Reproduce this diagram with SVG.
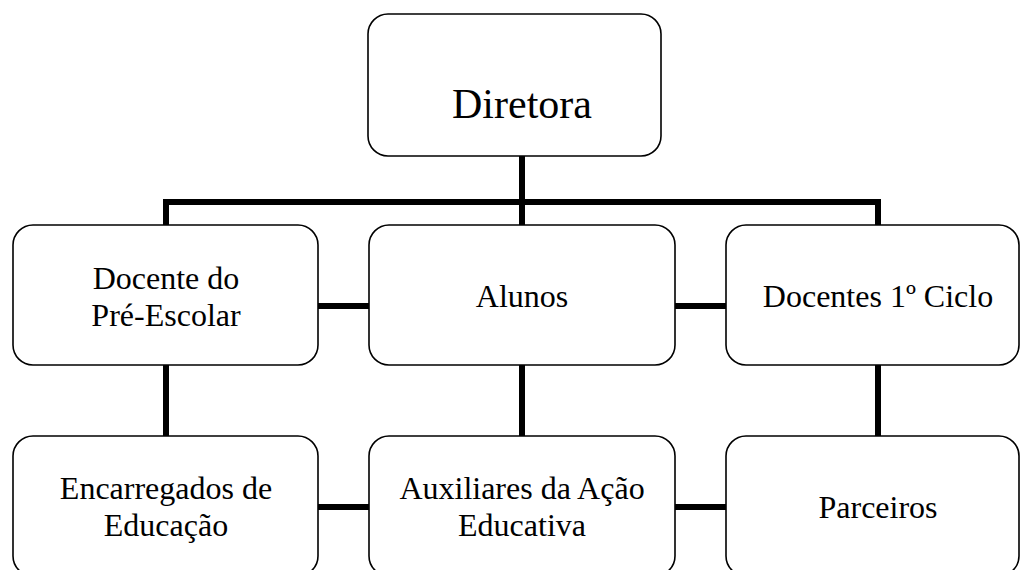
<svg xmlns="http://www.w3.org/2000/svg" width="1021" height="570" viewBox="0 0 1021 570">
<style>
.box{fill:#fff;stroke:#000;stroke-width:1.6}
.t{font-family:"Liberation Serif","Times New Roman",serif;font-size:32px;fill:#000;text-anchor:middle}
.big{font-size:42px}
.c{stroke:#000;stroke-width:6;fill:none;stroke-linecap:butt}
</style>
<rect width="1021" height="570" fill="#fff"/>
<g id="connectors">
<path class="c" d="M522,156 V202 M163,202 H881 M166,202 V225 M522,202 V225 M878,202 V225"/>
<path class="c" d="M318,306 H369 M675,306 H726"/>
<path class="c" d="M166,365 V436 M522,365 V436 M878,365 V436"/>
<path class="c" d="M318,507 H369 M675,507 H726"/>
</g>
<g id="diretora"><rect class="box" x="368" y="14" width="293" height="142" rx="20"/><text class="t big" x="522" y="118">Diretora</text></g>
<g id="docente-pre"><rect class="box" x="13" y="225" width="305" height="140" rx="20"/><text class="t" x="166" y="289">Docente do</text><text class="t" x="166" y="326">Pré-Escolar</text></g>
<g id="alunos"><rect class="box" x="369" y="225" width="306" height="140" rx="20"/><text class="t" x="522" y="307">Alunos</text></g>
<g id="docentes-1ciclo"><rect class="box" x="726" y="225" width="293" height="140" rx="20"/><text class="t" x="878" y="307">Docentes 1º Ciclo</text></g>
<g id="encarregados"><rect class="box" x="13" y="436" width="305" height="140" rx="20"/><text class="t" x="166" y="499">Encarregados de</text><text class="t" x="166" y="536">Educação</text></g>
<g id="auxiliares"><rect class="box" x="369" y="436" width="306" height="140" rx="20"/><text class="t" x="522" y="499">Auxiliares da Ação</text><text class="t" x="522" y="536">Educativa</text></g>
<g id="parceiros"><rect class="box" x="726" y="436" width="293" height="140" rx="20"/><text class="t" x="878" y="518">Parceiros</text></g>
</svg>
